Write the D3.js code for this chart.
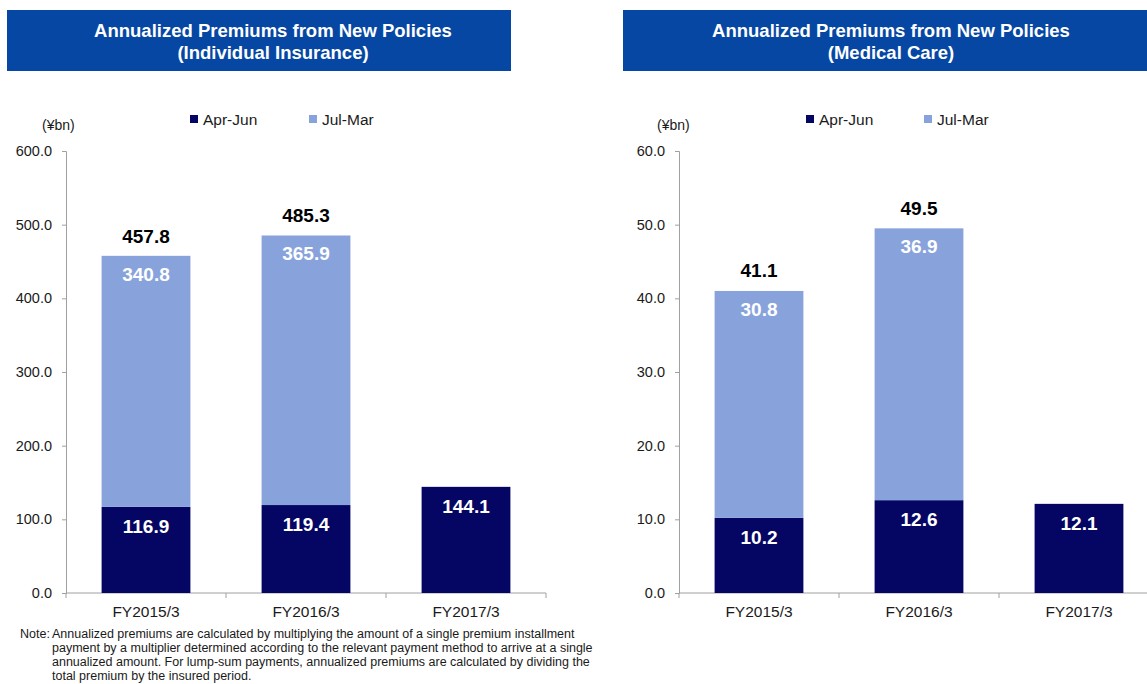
<!DOCTYPE html>
<html>
<head>
<meta charset="utf-8">
<script src="https://cdn.jsdelivr.net/npm/d3@7/dist/d3.min.js"></script>
<style>
  html, body { margin: 0; padding: 0; background: #ffffff; }
  svg { display: block; font-family: "Liberation Sans", Arial, sans-serif; }
</style>
</head>
<body>
<svg id="chart" width="1147" height="684"></svg>
<script>
// ---- Data ----
const categories = ["FY2015/3", "FY2016/3", "FY2017/3"];
const seriesNames = ["Apr-Jun", "Jul-Mar"];

const individualAprJun = [116.9, 119.4, 144.1];
const individualJulMar = [340.8, 365.9, null];
const individualTotal  = [457.8, 485.3, null];
const individualTicks  = [0, 100, 200, 300, 400, 500, 600];

const medicalAprJun = [10.2, 12.6, 12.1];
const medicalJulMar = [30.8, 36.9, null];
const medicalTotal  = [41.1, 49.5, null];
const medicalTicks  = [0, 10, 20, 30, 40, 50, 60];

const titleLine1 = "Annualized Premiums from New Policies";
const individualSubtitle = "(Individual Insurance)";
const medicalSubtitle = "(Medical Care)";
const unitLabel = "(¥bn)";

const noteLines = [
  "Annualized premiums are calculated by multiplying the amount of a single premium installment",
  "payment by a multiplier determined according to the relevant payment method to arrive at a single",
  "annualized amount. For lump-sum payments, annualized premiums are calculated by dividing the",
  "total premium by the insured period."
];

// ---- Styles ----
const DARK = "#050663";
const LIGHT = "#88a3dc";
const HEADER = "#0547a3";
const AXIS = "#a0a0a0";
const INK = "#1a1a1a";

const svg = d3.select("#chart");
const fmt = d3.format(".1f");

function drawPanel(opt) {
  const g = svg.append("g");

  // Header box with two-line title
  g.append("rect")
    .attr("x", opt.boxX0).attr("y", 10)
    .attr("width", opt.boxX1 - opt.boxX0).attr("height", 61)
    .attr("fill", HEADER);
  [titleLine1, opt.subtitle].forEach((t, i) => {
    g.append("text")
      .attr("x", opt.titleCx).attr("y", 37 + i * 22)
      .attr("text-anchor", "middle").attr("fill", "#fff")
      .attr("font-size", 18.5).attr("font-weight", "bold")
      .text(t);
  });

  const yMax = opt.ticks[opt.ticks.length - 1];
  const y = d3.scaleLinear().domain([0, yMax]).range([593, 151]);
  const x = d3.scaleBand()
    .domain(categories)
    .range([opt.axisX, opt.axisX + 480])
    .paddingInner(0.445)
    .paddingOuter(0.2225);

  // Y axis
  const yAxis = d3.axisLeft(y).tickValues(opt.ticks).tickFormat(fmt).tickSize(4).tickPadding(10);
  const ya = g.append("g").attr("transform", `translate(${opt.axisX},0)`).call(yAxis);
  ya.select(".domain").attr("stroke", AXIS);
  ya.selectAll(".tick line").attr("stroke", AXIS);
  ya.selectAll(".tick text").attr("fill", INK).attr("font-size", 14.5)
    .attr("font-family", "'Liberation Sans', Arial, sans-serif");

  // X axis line with boundary ticks between categories
  const step = x.step();
  const x0 = x.range()[0];
  g.append("line")
    .attr("x1", x0).attr("x2", x0 + step * categories.length)
    .attr("y1", y(0)).attr("y2", y(0))
    .attr("stroke", AXIS);
  d3.range(categories.length + 1).forEach(i => {
    g.append("line")
      .attr("x1", x0 + i * step).attr("x2", x0 + i * step)
      .attr("y1", y(0)).attr("y2", y(0) + 5)
      .attr("stroke", AXIS);
  });
  categories.forEach(c => {
    g.append("text")
      .attr("x", x(c) + x.bandwidth() / 2).attr("y", 617)
      .attr("text-anchor", "middle").attr("fill", INK)
      .attr("font-size", 15.5)
      .text(c);
  });

  // Stacked bars with value labels
  categories.forEach((c, i) => {
    const a = opt.aprJun[i];
    const b = opt.julMar[i];
    const bx = x(c), bw = x.bandwidth();
    g.append("rect")
      .attr("x", bx).attr("y", y(a))
      .attr("width", bw).attr("height", y(0) - y(a))
      .attr("fill", DARK);
    g.append("text")
      .attr("x", bx + bw / 2).attr("y", y(a) + 26)
      .attr("text-anchor", "middle").attr("fill", "#fff")
      .attr("font-size", 19).attr("font-weight", "bold")
      .text(fmt(a));
    if (b != null) {
      g.append("rect")
        .attr("x", bx).attr("y", y(a + b))
        .attr("width", bw).attr("height", y(a) - y(a + b))
        .attr("fill", LIGHT);
      g.append("text")
        .attr("x", bx + bw / 2).attr("y", y(a + b) + 25)
        .attr("text-anchor", "middle").attr("fill", "#fff")
        .attr("font-size", 19).attr("font-weight", "bold")
        .text(fmt(b));
    }
    const t = opt.total[i];
    if (t != null) {
      g.append("text")
        .attr("x", bx + bw / 2).attr("y", y(t) - 13)
        .attr("text-anchor", "middle").attr("fill", "#000")
        .attr("font-size", 19).attr("font-weight", "bold")
        .text(fmt(t));
    }
  });

  // Unit label
  g.append("text")
    .attr("x", opt.unitX).attr("y", 130)
    .attr("fill", INK)
    .attr("font-size", 14)
    .text(unitLabel);

  // Legend
  const legendColors = [DARK, LIGHT];
  seriesNames.forEach((s, i) => {
    const lx = opt.legendX[i];
    g.append("rect")
      .attr("x", lx).attr("y", 115)
      .attr("width", 8).attr("height", 8)
      .attr("fill", legendColors[i]);
    g.append("text")
      .attr("x", lx + 13).attr("y", 125)
      .attr("fill", INK).attr("font-size", 15.5)
      .text(s);
  });
}

drawPanel({
  boxX0: 7, boxX1: 511, titleCx: 273,
  subtitle: individualSubtitle,
  axisX: 66,
  unitX: 42,
  ticks: individualTicks,
  aprJun: individualAprJun, julMar: individualJulMar, total: individualTotal,
  legendX: [190, 309]
});

drawPanel({
  boxX0: 623, boxX1: 1147, titleCx: 891,
  subtitle: medicalSubtitle,
  axisX: 679,
  unitX: 657,
  ticks: medicalTicks,
  aprJun: medicalAprJun, julMar: medicalJulMar, total: medicalTotal,
  legendX: [806, 924]
});

// Footnote
const note = svg.append("g").attr("font-size", 12.5).attr("fill", INK);
note.append("text").attr("x", 20).attr("y", 638).text("Note:");
noteLines.forEach((line, i) => {
  note.append("text").attr("x", 52).attr("y", 638 + i * 14).text(line);
});
</script>
</body>
</html>
